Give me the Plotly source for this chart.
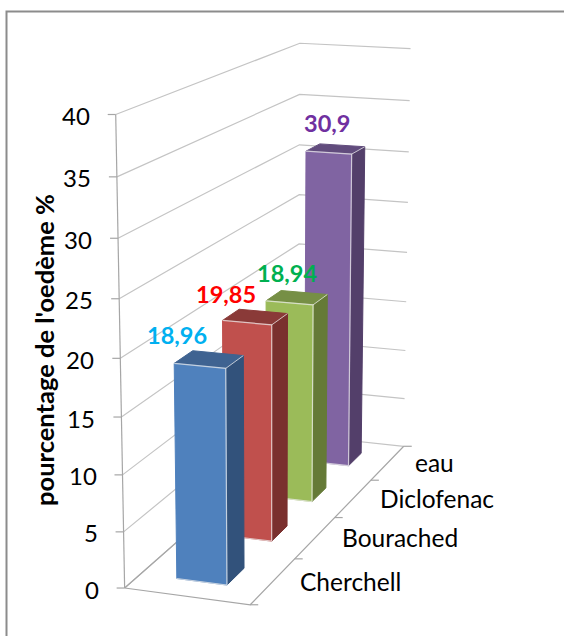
import numpy as np
import plotly.graph_objects as go

categories = ["Cherchell", "Bourached", "Diclofenac", "eau"]
values = [18.96, 19.85, 18.94, 30.9]
value_ticks = [0, 5, 10, 15, 20, 25, 30, 35, 40]
axis_title = "pourcentage de l'oedème %"

front_colors = ["#4F81BD", "#C0504D", "#9BBB59", "#8064A2"]
side_colors = ["#32527B", "#7A302E", "#657A37", "#533F6A"]
top_colors = ["#3F6391", "#8A3A38", "#768F45", "#614C7D"]
label_colors = ["#00B0F0", "#FF0000", "#00B050", "#7030A0"]
label_offsets = [(-33, -24), (-30, -23), (-10, -25), (-9, -26)]

FONT = "Lato"
GRID = "#C4C4C4"
AXIS = "#A6A6A6"
BAR_X = (0.295, 0.70)
BAR_Y = (0.31, 0.68)

# Plot-box reference points (lateral 0..1, category 0..4, value 0..40) -> page pixels,
# used to fit the perspective camera of the three-dimensional column chart.
box_points = [
    (0, 0, 0), (0, 0, 10), (0, 0, 20), (0, 0, 30), (0, 0, 40),
    (1, 0, 0), (1, 1, 0), (1, 2, 0), (1, 3, 0), (1, 4, 0),
    (0, 4, 20), (0, 4, 30), (0, 4, 40),
    (1, 4, 10), (1, 4, 20), (1, 4, 30), (1, 4, 40),
]
page_points = [
    (124, 588), (122.5, 475), (120.5, 358), (118, 238), (116, 115),
    (250, 605), (295, 559), (335, 517), (371, 480), (404, 446),
    (299, 244), (299.5, 145), (300, 43),
    (405, 351), (407, 253), (409, 152), (410, 48),
]


def fit_camera(src, dst):
    rows, rhs = [], []
    for (a, b, c), (u, v) in zip(src, dst):
        a, b, c = a, b / 4, c / 40
        rows.append([a, b, c, 1, 0, 0, 0, 0, -u * a, -u * b, -u * c])
        rows.append([0, 0, 0, 0, a, b, c, 1, -v * a, -v * b, -v * c])
        rhs += [u, v]
    p = np.linalg.lstsq(np.array(rows, float), np.array(rhs, float), rcond=None)[0]
    return np.append(p, 1.0).reshape(3, 4)


CAMERA = fit_camera(box_points, page_points)


def project(lateral, category, value):
    h = CAMERA @ np.array([lateral, category / 4, value / 40, 1.0])
    return h[0] / h[2], h[1] / h[2]


fig = go.Figure()


def polyline(points, color, width=1, fill=None, line_color=None):
    xs, ys = zip(*[project(*p) for p in points])
    fig.add_trace(go.Scatter(
        x=xs, y=ys, mode="lines", hoverinfo="skip", showlegend=False,
        line=dict(color=line_color or color, width=width),
        fill="toself" if fill else None, fillcolor=fill,
    ))


# Walls: gridlines run along the side wall, then across the back wall
for tick in value_ticks:
    polyline([(0, 0, tick), (0, 4, tick), (1, 4, tick)], GRID, 1.2)

# Floor edges and the value axis
polyline([(0, 4, 0), (0, 0, 0), (1, 0, 0), (1, 4, 0)], AXIS, 1.2)
polyline([(0, 0, 0), (0, 0, 40)], AXIS, 1.2)

annotations = []


def text_at(x, y, text, size, color="#000000", bold=False, xanchor="center", angle=0):
    annotations.append(dict(
        x=x, y=y, xref="x", yref="y", text=f"<b>{text}</b>" if bold else text,
        showarrow=False, xanchor=xanchor, yanchor="middle", textangle=angle,
        font=dict(family=FONT, size=size, color=color),
    ))


for tick in value_ticks:
    x, y = project(0, 0, tick)
    fig.add_shape(type="line", x0=x - 8, x1=x, y0=y, y1=y, line=dict(color=AXIS, width=1.2))
    text_at(x - 24, y + 1, str(tick), 24, xanchor="right")

for i in range(len(categories) + 1):
    x, y = project(1, i, 0)
    fig.add_shape(type="line", x0=x, x1=x + 8, y0=y, y1=y, line=dict(color=AXIS, width=1.2))

for i, name in enumerate(categories):
    x, y = project(1, i + 0.5, 0)
    text_at(x + 25, y, name, 24.5, xanchor="left")

# Columns are painted from the back row to the front one
for i in reversed(range(len(values))):
    v = values[i]
    x0, x1 = BAR_X
    y0, y1 = i + BAR_Y[0], i + BAR_Y[1]
    edge = "rgba(235,235,235,0.75)"
    polyline([(x1, y0, 0), (x1, y1, 0), (x1, y1, v), (x1, y0, v), (x1, y0, 0)],
             side_colors[i], 1, fill=side_colors[i], line_color=side_colors[i])
    polyline([(x0, y0, v), (x1, y0, v), (x1, y1, v), (x0, y1, v), (x0, y0, v)],
             top_colors[i], 1, fill=top_colors[i], line_color=top_colors[i])
    polyline([(x0, y0, 0), (x1, y0, 0), (x1, y0, v), (x0, y0, v), (x0, y0, 0)],
             front_colors[i], 1, fill=front_colors[i], line_color=front_colors[i])
    polyline([(x0, y0, 0), (x1, y0, 0), (x1, y0, v), (x0, y0, v)], edge, 1.2)
    polyline([(x1, y0, v), (x1, y1, v)], edge, 1)

for i, v in enumerate(values):
    x, y = project(0.5, i + 0.5, v)
    dx, dy = label_offsets[i]
    text_at(x + dx, y + dy, str(v).replace(".", ","), 23.5, label_colors[i], bold=True)

text_at(44, 350, axis_title, 25.5, bold=True, angle=-90)

# Chart frame, running off the right and bottom of the page
fig.add_shape(type="rect", x0=6.5, x1=600, y0=11.5, y1=700,
              line=dict(color="#8C8C8C", width=2), layer="below")

fig.update_layout(
    width=564, height=636,
    margin=dict(l=0, r=0, t=0, b=0),
    paper_bgcolor="#FFFFFF", plot_bgcolor="#FFFFFF",
    showlegend=False, annotations=annotations,
    xaxis=dict(range=[0, 564], visible=False, fixedrange=True),
    yaxis=dict(range=[636, 0], visible=False, fixedrange=True),
)
fig.write_html("out.html", config={"displayModeBar": False})
